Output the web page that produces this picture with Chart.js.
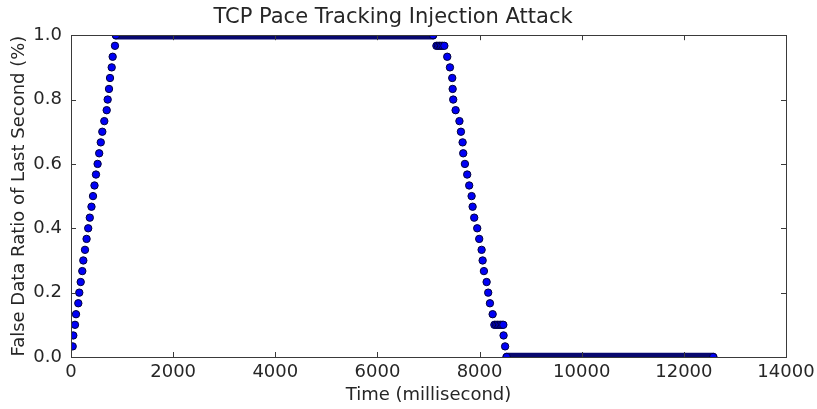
<!DOCTYPE html>
<html>
<head>
<meta charset="utf-8">
<title>TCP Pace Tracking Injection Attack</title>
<script src="https://cdn.jsdelivr.net/npm/chart.js@4.4.1/dist/chart.umd.min.js"></script>
<style>
  html, body { margin: 0; padding: 0; background: #fff; }
  #wrap { width: 817px; height: 409px; }
</style>
</head>
<body>
<div id="wrap"><canvas id="paceChart" width="817" height="409"></canvas></div>
<script>
// ramp up after the attack starts (ms, ratio)
var riseTime = [33, 45, 78, 98, 143, 162, 190, 221, 241, 274, 305, 337, 368, 401, 431,
                460, 489, 521, 552, 583, 613, 652, 699, 718, 744, 764, 797, 816, 861];
var riseRatio = [0.033, 0.067, 0.1, 0.133, 0.167, 0.2, 0.233, 0.267, 0.3, 0.333, 0.367, 0.4, 0.433, 0.467, 0.5,
                 0.533, 0.567, 0.6, 0.633, 0.667, 0.7, 0.733, 0.767, 0.8, 0.833, 0.867, 0.9, 0.933, 0.967];

// short step at 0.967 before the fall
var stepHighTime = [7155, 7185, 7215, 7245, 7275, 7310];
var stepHighRatio = [0.967, 0.967, 0.967, 0.967, 0.967, 0.967];

// ramp down after the attack stops
var fallTime = [7367, 7420, 7465, 7473, 7484, 7531, 7606, 7635, 7668, 7680, 7713, 7758, 7797,
                7844, 7864, 7895, 7954, 7993, 8040, 8060, 8085, 8138, 8169, 8203, 8256];
var fallRatio = [0.933, 0.9, 0.867, 0.833, 0.8, 0.767, 0.733, 0.7, 0.667, 0.633, 0.6, 0.567, 0.533,
                 0.5, 0.467, 0.433, 0.4, 0.367, 0.333, 0.3, 0.267, 0.233, 0.2, 0.167, 0.133];

// short step at 0.1 and the last two samples
var stepLowTime = [8290, 8320, 8350, 8380, 8410, 8440, 8465, 8470, 8500];
var stepLowRatio = [0.1, 0.1, 0.1, 0.1, 0.1, 0.1, 0.1, 0.067, 0.033];

// long runs where samples sit on top of each other: [start, end] in ms
var fullRun = [880, 7090];
var fullRunRatio = 1.0;
var zeroRun = [8530, 12575];
var zeroRunRatio = 0.0;

var xTicks = [0, 2000, 4000, 6000, 8000, 10000, 12000, 14000];
var yTicks = [0.0, 0.2, 0.4, 0.6, 0.8, 1.0];

function toPoints(xs, ys) {
    var pts = [];
    for (var i = 0; i < xs.length; i++) {
        pts.push({ x: xs[i], y: ys[i] });
    }
    return pts;
}

var samplePoints = []
    .concat(toPoints(riseTime, riseRatio))
    .concat(toPoints([fullRun[0], fullRun[1]], [fullRunRatio, fullRunRatio]))
    .concat(toPoints(stepHighTime, stepHighRatio))
    .concat(toPoints(fallTime, fallRatio))
    .concat(toPoints(stepLowTime, stepLowRatio))
    .concat(toPoints([zeroRun[0], zeroRun[1]], [zeroRunRatio, zeroRunRatio]));

var TEXT = '#262626';
var FONT = "'DejaVu Sans', sans-serif";
var DOT_R = 3.7;

// matplotlib-like frame with ticks pointing inward on all four sides
var frameTicks = {
    id: 'frameTicks',
    afterDatasetsDraw: function (chart) {
        var ctx = chart.ctx;
        var a = chart.chartArea;
        var xs = chart.scales.x;
        var ys = chart.scales.y;
        var len = 5;
        ctx.save();
        ctx.strokeStyle = '#3a3a3a';
        ctx.lineWidth = 1;
        ctx.beginPath();
        xTicks.forEach(function (v) {
            var px = Math.round(xs.getPixelForValue(v)) + 0.5;
            ctx.moveTo(px, a.bottom); ctx.lineTo(px, a.bottom - len);
            ctx.moveTo(px, a.top); ctx.lineTo(px, a.top + len);
        });
        yTicks.forEach(function (v) {
            var py = Math.round(ys.getPixelForValue(v)) + 0.5;
            ctx.moveTo(a.left, py); ctx.lineTo(a.left + len, py);
            ctx.moveTo(a.right, py); ctx.lineTo(a.right - len, py);
        });
        ctx.stroke();
        ctx.strokeRect(Math.round(a.left) + 0.5, Math.round(a.top) + 0.5,
            Math.round(a.right - a.left), Math.round(a.bottom - a.top));
        ctx.restore();
    }
};

var ctx = document.getElementById('paceChart').getContext('2d');
new Chart(ctx, {
    type: 'scatter',
    data: {
        datasets: [
            {
                label: 'samples',
                data: samplePoints,
                showLine: false,
                pointRadius: DOT_R,
                pointBackgroundColor: '#0000f5',
                pointBorderColor: '#00003c',
                pointBorderWidth: 1,
                clip: 0
            },
            {
                label: 'full run',
                data: toPoints(fullRun, [fullRunRatio, fullRunRatio]),
                showLine: true,
                pointRadius: 0,
                borderColor: '#08086e',
                borderWidth: DOT_R * 2 + 1,
                borderCapStyle: 'round',
                clip: 0
            },
            {
                label: 'zero run',
                data: toPoints(zeroRun, [zeroRunRatio, zeroRunRatio]),
                showLine: true,
                pointRadius: 0,
                borderColor: '#08086e',
                borderWidth: DOT_R * 2 + 1,
                borderCapStyle: 'round',
                clip: 0
            }
        ]
    },
    options: {
        responsive: false,
        animation: false,
        events: [],
        layout: { padding: { left: 0, right: 31, top: 0, bottom: 0 } },
        plugins: {
            legend: { display: false },
            tooltip: { enabled: false },
            title: {
                display: true,
                text: 'TCP Pace Tracking Injection Attack',
                color: TEXT,
                font: { family: FONT, size: 21, weight: 'normal' },
                padding: { top: 5, bottom: 5 }
            }
        },
        scales: {
            x: {
                type: 'linear',
                min: 0,
                max: 14000,
                afterBuildTicks: function (scale) {
                    scale.ticks = xTicks.map(function (v) { return { value: v }; });
                },
                ticks: {
                    color: TEXT,
                    font: { family: FONT, size: 18 },
                    padding: 5,
                    maxRotation: 0,
                    callback: function (v) { return String(v); }
                },
                grid: { display: false, drawTicks: false },
                border: { display: false },
                title: {
                    display: true,
                    text: 'Time (millisecond)',
                    color: TEXT,
                    font: { family: FONT, size: 18 },
                    padding: { top: 0, bottom: 3 }
                },
                afterFit: function (scale) {
                    scale.height = 52;
                    scale.paddingLeft = 0;
                    scale.paddingRight = 0;
                }
            },
            y: {
                type: 'linear',
                min: 0,
                max: 1,
                afterBuildTicks: function (scale) {
                    scale.ticks = yTicks.map(function (v) { return { value: v }; });
                },
                ticks: {
                    color: TEXT,
                    font: { family: FONT, size: 18 },
                    padding: 9,
                    callback: function (v) { return Number(v).toFixed(1); }
                },
                grid: { display: false, drawTicks: false },
                border: { display: false },
                title: {
                    display: true,
                    text: 'False Data Ratio of Last Second (%)',
                    color: TEXT,
                    font: { family: FONT, size: 18 },
                    padding: { top: 9, bottom: 0 }
                },
                afterFit: function (scale) {
                    scale.width = 71;
                    scale.paddingTop = 0;
                    scale.paddingBottom = 0;
                }
            }
        }
    },
    plugins: [frameTicks]
});
</script>
</body>
</html>
